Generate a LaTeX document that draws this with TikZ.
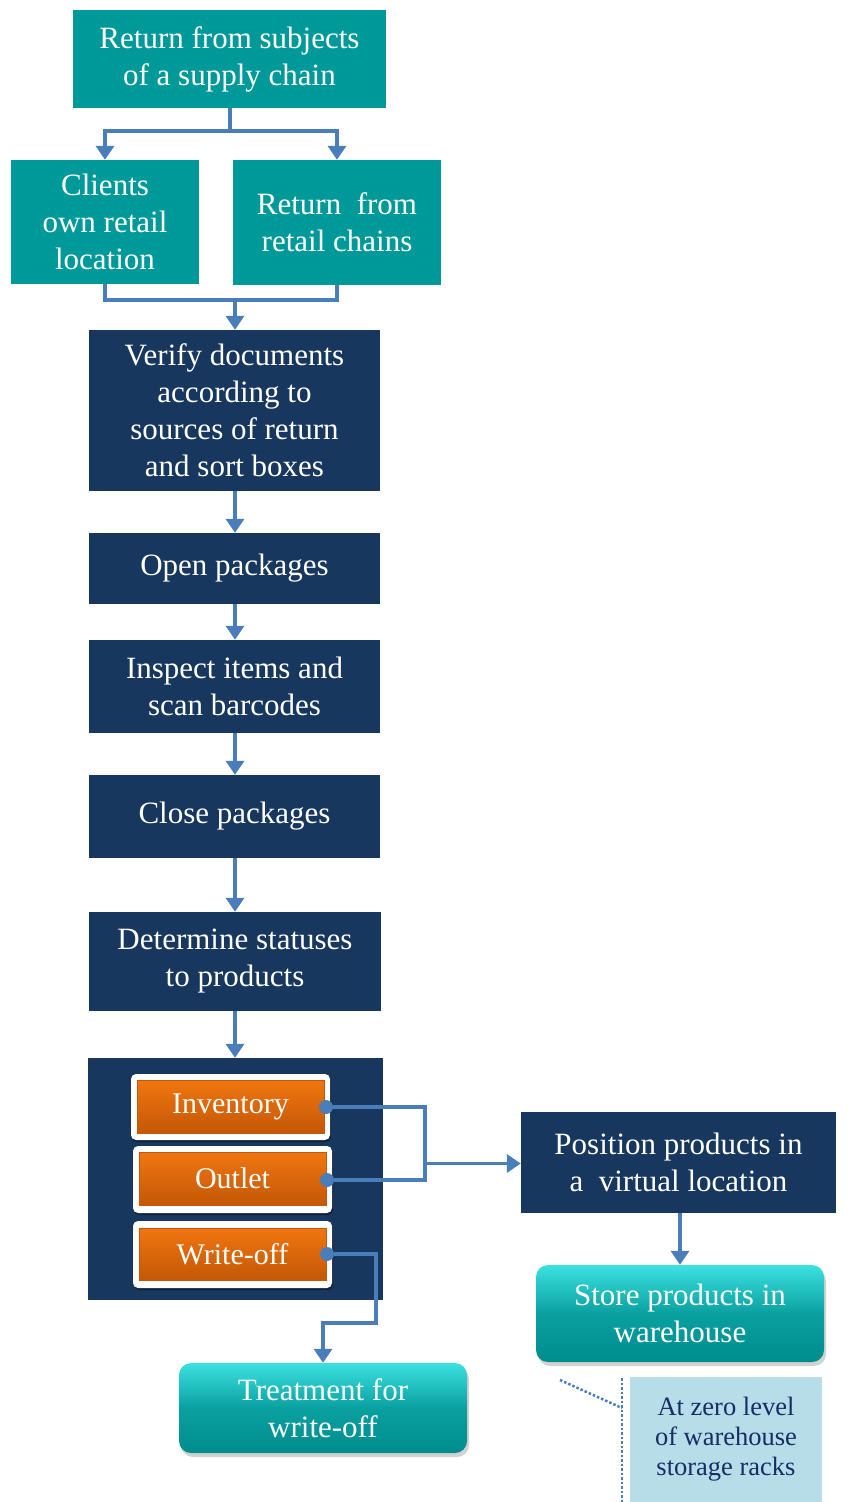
\documentclass[tikz,border=0pt]{standalone}
\usepackage{fontspec}
\setmainfont{Liberation Serif}
\usetikzlibrary{arrows.meta,shadows}
\definecolor{tealbox}{RGB}{0,153,153}
\definecolor{navy}{RGB}{23,55,94}
\definecolor{conn}{RGB}{74,126,187}
\definecolor{orangeA}{RGB}{240,118,16}
\definecolor{orangeB}{RGB}{196,88,6}
\definecolor{tealL}{RGB}{60,225,225}
\definecolor{tealM}{RGB}{10,160,160}
\definecolor{tealD}{RGB}{0,140,140}
\definecolor{notebg}{RGB}{183,221,232}
\definecolor{notetx}{RGB}{23,45,100}
\begin{document}
\begin{tikzpicture}[x=1pt,y=-1pt,
  txt/.style={text=white,font=\fontsize{31}{37}\selectfont,align=center,inner sep=0pt},
  tealrect/.style={txt,fill=tealbox,rectangle},
  navyrect/.style={txt,fill=navy,rectangle},
  roundteal/.style={txt,rectangle,rounded corners=12pt,top color=tealL,bottom color=tealD,middle color=tealM,
     drop shadow={shadow xshift=2pt,shadow yshift=-4pt,fill=black!35,opacity=0.5}},
  frame/.style={fill=white,rounded corners=5pt,inner sep=0pt,
     drop shadow={shadow xshift=1pt,shadow yshift=-2pt,fill=black,opacity=0.4}},
  btn/.style={txt,font=\fontsize{30}{34}\selectfont,top color=orangeA,bottom color=orangeB,draw=orangeB,line width=1pt},
  cn/.style={draw=conn,line width=3.5pt},
  ar/.style={cn,-{Triangle[length=14pt,width=18pt]}},
  dotc/.style={fill=conn,circle,inner sep=0pt,minimum size=14pt}]
\useasboundingbox (0,0) rectangle (861,1502);

% top level
\node[tealrect,minimum width=313pt,minimum height=98pt] (top) at (229.5,59) {Return from subjects\\of a supply chain};
\node[tealrect,minimum width=188pt,minimum height=124pt] (cli) at (105,222) {Clients\\own retail\\location};
\node[tealrect,minimum width=208pt,minimum height=125pt] (ret) at (337,222.5) {Return\ \ from\\retail\ chains};

% main column
\node[navyrect,minimum width=291pt,minimum height=161pt] (ver) at (234.5,410.5) {Verify\ documents\\according to\\sources of return\\and sort boxes};
\node[navyrect,minimum width=291pt,minimum height=71pt] (open) at (234.5,568.5) {Open packages};
\node[navyrect,minimum width=291pt,minimum height=93pt] (insp) at (234.5,686.5) {Inspect items and\\scan barcodes};
\node[navyrect,minimum width=291pt,minimum height=83pt] (close) at (234.5,816.5) {Close packages};
\node[navyrect,minimum width=292pt,minimum height=99pt] (det) at (235,961.5) {Determine statuses\\to products};
\node[navyrect,minimum width=295pt,minimum height=242pt] (cont) at (235.5,1179) {};

% buttons
\node[frame,minimum width=199pt,minimum height=66pt] (invf) at (230.5,1107) {};
\node[btn,minimum width=187pt,minimum height=53pt] (inv) at (230.5,1106.5) {Inventory};
\node[frame,minimum width=199pt,minimum height=67pt] (outf) at (232.5,1179.5) {};
\node[btn,minimum width=187pt,minimum height=53pt] (out) at (232.5,1178.5) {Outlet};
\node[frame,minimum width=199pt,minimum height=67pt] (wrf) at (232.5,1254.5) {};
\node[btn,minimum width=187pt,minimum height=52pt] (wr) at (232.5,1254) {Write-off};

% right branch
\node[navyrect,minimum width=315pt,minimum height=101pt] (pos) at (678.5,1162.5) {Position products in\\a\ \ virtual location};
\node[roundteal,minimum width=288pt,minimum height=97pt] (store) at (680,1313.5) {Store products in\\warehouse};
\node[roundteal,minimum width=288pt,minimum height=90pt] (treat) at (323,1408) {Treatment for\\write-off};

% note
\node[fill=notebg,minimum width=192pt,minimum height=125pt,inner sep=0pt,align=center,
  text=notetx,font=\fontsize{26.5}{30}\selectfont] (note) at (726,1439.5) {At zero level\\of warehouse\\storage racks};
\coordinate (nl) at (622,1378);
\coordinate (nb) at (622,1502);
\coordinate (nk) at (622,1408);
\coordinate (ns) at (560,1380);
\draw[draw=conn,line width=2.5pt,dotted] (nl) -- (nb);
\draw[draw=conn,line width=2.5pt,dotted] (ns) -- (nk);

% connectors top
\coordinate (j1) at (230,131);
\draw[cn] (top.south -| j1) -- (j1);
\draw[ar] (j1) -| (cli.north);
\draw[ar] (j1) -| (ret.north);
\coordinate (j2) at (235,300);
\draw[cn] (cli.south) |- (j2);
\draw[cn] (ret.south) |- (j2);
\draw[ar] (j2) -- (ver.north -| j2);

\draw[ar] (ver.south -| j2) -- (open.north -| j2);
\draw[ar] (open.south -| j2) -- (insp.north -| j2);
\draw[ar] (insp.south -| j2) -- (close.north -| j2);
\draw[ar] (close.south -| j2) -- (det.north -| j2);
\draw[ar] (det.south -| j2) -- (cont.north -| j2);

% button connectors
\node[dotc] (d1) at (326,1107) {};
\node[dotc] (d2) at (327,1180) {};
\node[dotc] (d3) at (327,1254) {};
\coordinate (v1) at (425,1107);
\coordinate (v2) at (425,1180);
\coordinate (v3) at (425,1163.5);
\draw[cn] (d1) -- (v1) -- (v2) -- (d2);
\draw[ar] (v3) -- (pos.west |- v3);
\coordinate (w1) at (376,1254);
\coordinate (w2) at (376,1323);
\coordinate (w3) at (323,1323);
\draw[ar] (d3) -- (w1) -- (w2) -- (w3) -- (treat.north);

\draw[ar] (pos.south -| store.north) -- (store.north);
\end{tikzpicture}
\end{document}
